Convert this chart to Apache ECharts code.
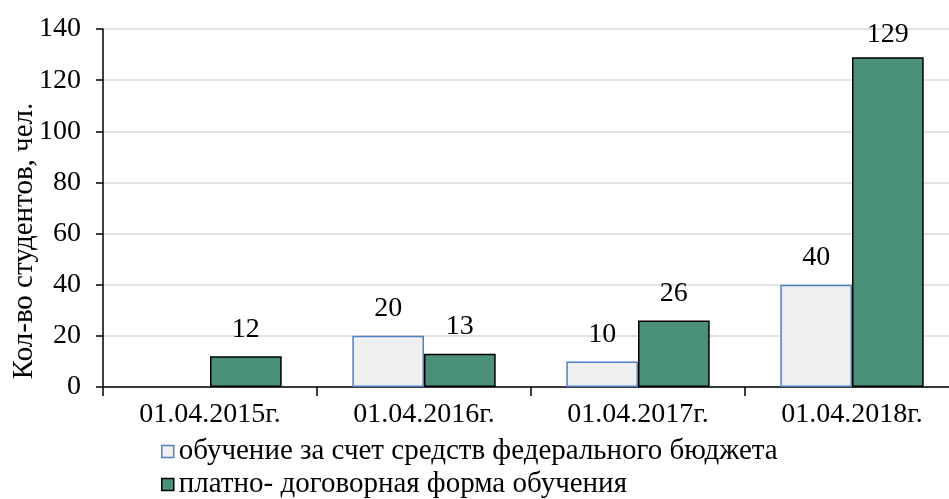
<!DOCTYPE html>
<html>
<head>
<meta charset="utf-8">
<script src="https://cdn.jsdelivr.net/npm/echarts@6/dist/echarts.min.js"></script>
<style>html,body{margin:0;padding:0;background:#fff;overflow:hidden;}#c{width:960px;height:499px;}</style>
</head>
<body>
<div id="c"></div>
<script>
const categories = ['01.04.2015г.', '01.04.2016г.', '01.04.2017г.', '01.04.2018г.'];
const budgetValues = [null, 20, 10, 40];
const paidValues = [12, 13, 26, 129];
const seriesNames = ['обучение за счет средств федерального бюджета', 'платно- договорная форма обучения'];
const yTicks = { min: 0, max: 140, interval: 20 };
const yAxisTitle = 'Кол-во студентов, чел.';

const FONT = 'Liberation Serif';
const budgetStyle = { color: '#f0f0f0', borderColor: '#4f7fc8', borderWidth: 1.5 };
const paidStyle = { color: '#4a907a', borderColor: '#000', borderWidth: 1.5 };
const legendText = { fontFamily: FONT, fontSize: 29, color: '#000' };
// like Excel, labels that would leave the plot area are pulled closer to the bar
const toItems = vals => vals.map(v => (v != null && v > yTicks.max - 15) ? { value: v, label: { distance: 8 } } : v);
const chart = echarts.init(document.getElementById('c'));
chart.setOption({
  animation: false,
  backgroundColor: '#fff',
  textStyle: { fontFamily: FONT },
  grid: { left: 103, top: 29, width: 856, height: 358, containLabel: false },
  legend: [
    {
      orient: 'horizontal', left: 161, top: 437, padding: 0, icon: 'rect',
      itemWidth: 12, itemHeight: 12, textStyle: legendText,
      data: [{ name: seriesNames[0], itemStyle: budgetStyle }]
    },
    {
      orient: 'horizontal', left: 161, top: 470, padding: 0, icon: 'rect',
      itemWidth: 12, itemHeight: 12, textStyle: legendText,
      data: [{ name: seriesNames[1], itemStyle: paidStyle }]
    }
  ],
  xAxis: {
    type: 'category',
    data: categories,
    axisLine: { lineStyle: { color: '#000', width: 1.5 } },
    axisTick: { show: true, length: 9, lineStyle: { color: '#000', width: 1.5 } },
    axisLabel: { fontFamily: FONT, fontSize: 28, color: '#000', margin: 14 }
  },
  yAxis: {
    type: 'value',
    min: yTicks.min, max: yTicks.max, interval: yTicks.interval,
    axisLine: { show: true, lineStyle: { color: '#000', width: 1.5 } },
    axisTick: { show: true, length: 7, lineStyle: { color: '#000', width: 1.5 } },
    axisLabel: { fontFamily: FONT, fontSize: 28, color: '#000', margin: 22 },
    splitLine: { show: true, lineStyle: { color: '#d9d9d9', width: 1.5 } }
  },
  graphic: [{
    type: 'text',
    x: 24, y: 241,
    rotation: Math.PI / 2,
    style: { text: yAxisTitle, fontFamily: FONT, fontSize: 29, fill: '#000', textAlign: 'center', textVerticalAlign: 'middle' }
  }],
  series: [
    {
      name: seriesNames[0], type: 'bar', data: toItems(budgetValues),
      barGap: '0%', barCategoryGap: '33%',
      itemStyle: budgetStyle,
      label: { show: true, position: 'top', distance: 13, fontFamily: FONT, fontSize: 28, color: '#000' }
    },
    {
      name: seriesNames[1], type: 'bar', data: toItems(paidValues),
      barGap: '0%', barCategoryGap: '33%',
      itemStyle: paidStyle,
      label: { show: true, position: 'top', distance: 13, fontFamily: FONT, fontSize: 28, color: '#000' }
    }
  ]
});
</script>
</body>
</html>
